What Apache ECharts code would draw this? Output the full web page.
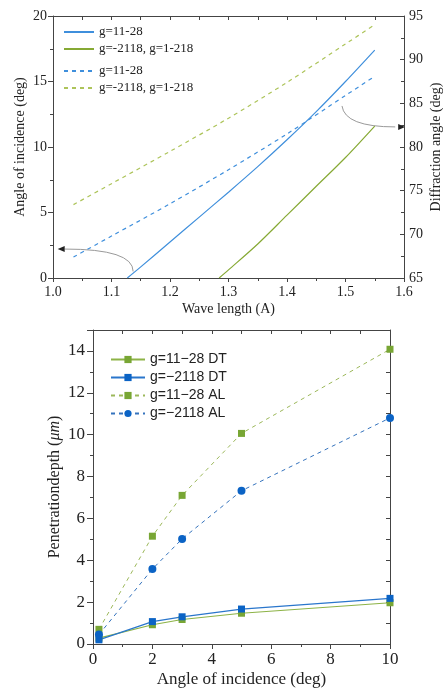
<!DOCTYPE html>
<html>
<head>
<meta charset="utf-8">
<script src="https://cdn.jsdelivr.net/npm/echarts@6/dist/echarts.min.js"></script>
<style>
  html, body { margin: 0; padding: 0; background: #fff; }
  #main { width: 443px; height: 691px; }
</style>
</head>
<body>
<div id="main"></div>
<script>
// ---- top panel: angles vs wave length ----
const waveBlueSolid = [1.127, 1.15, 1.2, 1.25, 1.3, 1.35, 1.4, 1.45, 1.5, 1.55];
const incBlue = [0, 0.85, 2.75, 4.65, 6.55, 8.5, 10.55, 12.7, 15.0, 17.4];
const waveGreenSolid = [1.284, 1.3, 1.35, 1.4, 1.45, 1.5, 1.55];
const incGreen = [0, 0.62, 2.6, 4.8, 7.0, 9.2, 11.6];
const waveDashed = [1.035, 1.1, 1.2, 1.3, 1.4, 1.5, 1.55];
const diffBlue = [67.4, 69.8, 73.5, 77.4, 81.5, 85.9, 88.1];
const diffGreen = [73.4, 75.8, 79.5, 83.3, 87.4, 91.8, 94.0];

// ---- bottom panel: penetration depth vs angle ----
const angleX = [0.2, 2, 3, 5, 10];
const dtGreen = [0.28, 0.92, 1.17, 1.47, 1.97];
const dtBlue = [0.2, 1.07, 1.30, 1.67, 2.18];
const alGreen = [0.7, 5.15, 7.1, 10.06, 14.08];
const alBlue = [0.45, 3.58, 5.02, 7.32, 10.8];

const serif = 'Liberation Serif';
const sans = 'Liberation Sans';
const axisCol = '#444';

const zip = (xs, ys) => xs.map((x, i) => [x, ys[i]]);

const chart = echarts.init(document.getElementById('main'), null, { renderer: 'canvas' });

function axisBase(extra) {
  return Object.assign({
    type: 'value',
    nameMoveOverlap: false,
    splitLine: { show: false },
    axisLine: { show: true, onZero: false, lineStyle: { color: axisCol, width: 1 } },
    axisTick: { show: true, lineStyle: { color: axisCol } },
  }, extra);
}

const topLegendText = { fontFamily: serif, fontSize: 13, color: '#222', lineHeight: 14 };

const option = {
  animation: false,
  backgroundColor: '#fff',
  grid: [
    { left: 53, right: 39, top: 16, bottom: 413, outerBoundsMode: 'none' },
    { left: 93, right: 53, top: 330, bottom: 47, outerBoundsMode: 'none' },
  ],
  legend: [
    {
      orient: 'vertical', left: 58, top: 20, itemWidth: 30, itemHeight: 10, itemGap: 3,
      itemStyle: { opacity: 0 }, textStyle: topLegendText,
      data: ['g=11-28', 'g=-2118, g=1-218'],
    },
    {
      orient: 'vertical', left: 58, top: 59, itemWidth: 30, itemHeight: 10, itemGap: 3,
      itemStyle: { opacity: 0 }, textStyle: topLegendText,
      data: ['g=11-28 ', 'g=-2118, g=1-218 '],
    },
    {
      orient: 'vertical', left: 105, top: 347, itemWidth: 34, itemHeight: 9, itemGap: 3,
      textStyle: { fontFamily: sans, fontSize: 14, color: '#222', lineHeight: 15 },
      data: ['g=11\u221228 DT', 'g=\u22122118 DT', 'g=11\u221228 AL', 'g=\u22122118 AL'],
    },
  ],
  xAxis: [
    axisBase({
      gridIndex: 0, position: 'bottom', min: 1.0, max: 1.6, interval: 0.1,
      name: 'Wave length (A)', nameLocation: 'middle', nameGap: 24,
      nameTextStyle: { fontFamily: serif, fontSize: 14, color: '#222' },
      axisTick: { show: true, length: 4, lineStyle: { color: axisCol } },
      minorTick: { show: true, splitNumber: 2, length: 3, lineStyle: { color: axisCol } },
      axisLabel: { fontFamily: serif, fontSize: 14, color: '#222', margin: 7, formatter: v => v.toFixed(1) },
    }),
    axisBase({
      gridIndex: 0, position: 'top', min: 1.0, max: 1.6, interval: 0.05,
      axisTick: { show: true, inside: true, length: 4, lineStyle: { color: axisCol } },
      axisLabel: { show: false },
    }),
    axisBase({
      gridIndex: 1, position: 'bottom', min: 0, max: 10, interval: 2,
      name: 'Angle of incidence (deg)', nameLocation: 'middle', nameGap: 27,
      nameTextStyle: { fontFamily: serif, fontSize: 17, color: '#222' },
      axisTick: { show: true, length: 5, lineStyle: { color: axisCol } },
      minorTick: { show: true, splitNumber: 2, length: 3, lineStyle: { color: axisCol } },
      axisLabel: { fontFamily: serif, fontSize: 17, color: '#222', margin: 7 },
    }),
    axisBase({
      gridIndex: 1, position: 'top', min: 0, max: 10, interval: 1,
      axisTick: { show: true, inside: true, length: 4, lineStyle: { color: axisCol } },
      axisLabel: { show: false },
    }),
  ],
  yAxis: [
    axisBase({
      gridIndex: 0, position: 'left', min: 0, max: 20, interval: 5,
      name: 'Angle of incidence (deg)', nameLocation: 'middle', nameGap: 26,
      nameTextStyle: { fontFamily: serif, fontSize: 14, color: '#222' },
      axisTick: { show: true, length: 5, lineStyle: { color: axisCol } },
      minorTick: { show: true, splitNumber: 2, length: 3, lineStyle: { color: axisCol } },
      axisLabel: { fontFamily: serif, fontSize: 14, color: '#222', margin: 6 },
    }),
    axisBase({
      gridIndex: 0, position: 'right', min: 65, max: 95, interval: 5,
      name: 'Diffraction angle (deg)', nameLocation: 'middle', nameGap: 25,
      nameTextStyle: { fontFamily: serif, fontSize: 14, color: '#222' },
      axisTick: { show: true, inside: true, length: 4, lineStyle: { color: axisCol } },
      minorTick: { show: true, splitNumber: 2, length: 3, lineStyle: { color: axisCol } },
      axisLabel: { fontFamily: serif, fontSize: 14, color: '#222', margin: 5 },
    }),
    axisBase({
      gridIndex: 1, position: 'left', min: 0, max: 15, interval: 2,
      name: 'Penetrationdepth ({i|\u03bcm})', nameLocation: 'middle', nameGap: 30,
      nameTextStyle: {
        fontFamily: serif, fontSize: 16, color: '#222',
        rich: { i: { fontFamily: serif, fontSize: 16, fontStyle: 'italic', color: '#222' } },
      },
      axisTick: { show: true, length: 6, lineStyle: { color: axisCol } },
      minorTick: { show: true, splitNumber: 2, length: 3, lineStyle: { color: axisCol } },
      axisLabel: { fontFamily: serif, fontSize: 17, color: '#222', margin: 8, showMaxLabel: false },
    }),
    axisBase({
      gridIndex: 1, position: 'right', min: 0, max: 15, interval: 1,
      axisTick: { show: true, inside: true, length: 4, lineStyle: { color: axisCol } },
      axisLabel: { show: false },
    }),
  ],
  series: [
    {
      name: 'g=11-28', type: 'line', xAxisIndex: 0, yAxisIndex: 0, symbol: 'none', smooth: 0.3,
      data: zip(waveBlueSolid, incBlue), color: '#3f8fdc',
      lineStyle: { width: 1.2, color: '#3f8fdc' },
    },
    {
      name: 'g=-2118, g=1-218', type: 'line', xAxisIndex: 0, yAxisIndex: 0, symbol: 'none', smooth: 0.3,
      data: zip(waveGreenSolid, incGreen), color: '#86a934',
      lineStyle: { width: 1.2, color: '#86a934' },
    },
    {
      name: 'g=11-28 ', type: 'line', xAxisIndex: 0, yAxisIndex: 1, symbol: 'none', smooth: 0.3,
      data: zip(waveDashed, diffBlue), color: '#3f8fdc',
      lineStyle: { width: 1.2, type: [4, 4], color: '#3f8fdc' },
    },
    {
      name: 'g=-2118, g=1-218 ', type: 'line', xAxisIndex: 0, yAxisIndex: 1, symbol: 'none', smooth: 0.3,
      data: zip(waveDashed, diffGreen), color: '#adc45a',
      lineStyle: { width: 1.2, type: [4, 4], color: '#adc45a' },
    },
    {
      name: 'g=11\u221228 DT', type: 'line', xAxisIndex: 2, yAxisIndex: 2,
      symbol: 'rect', symbolSize: 7, data: zip(angleX, dtGreen), color: '#78a634',
      itemStyle: { color: '#78a634' }, lineStyle: { width: 1.2, color: '#8db347' },
    },
    {
      name: 'g=\u22122118 DT', type: 'line', xAxisIndex: 2, yAxisIndex: 2,
      symbol: 'rect', symbolSize: 7, data: zip(angleX, dtBlue), color: '#0b63c5',
      itemStyle: { color: '#0b63c5' }, lineStyle: { width: 1.2, color: '#2a76cc' },
    },
    {
      name: 'g=11\u221228 AL', type: 'line', xAxisIndex: 2, yAxisIndex: 2,
      symbol: 'rect', symbolSize: 7, data: zip(angleX, alGreen), color: '#78a634',
      itemStyle: { color: '#78a634' }, lineStyle: { width: 1, type: [4, 4], color: '#9cb85a' },
    },
    {
      name: 'g=\u22122118 AL', type: 'line', xAxisIndex: 2, yAxisIndex: 2,
      symbol: 'circle', symbolSize: 8, data: zip(angleX, alBlue), color: '#0b63c5',
      itemStyle: { color: '#0b63c5' }, lineStyle: { width: 1, type: [4, 4], color: '#3573bd' },
    },
  ],
};

chart.setOption(option);

// curved annotation arrows (anchored in data space of the top panel)
function arrow(axes, p0, pc, p1, tip) {
  const a = chart.convertToPixel(axes, p0);
  const c = chart.convertToPixel(axes, pc);
  const b = chart.convertToPixel(axes, p1);
  const t = chart.convertToPixel(axes, tip);
  const dir = Math.sign(t[0] - b[0]);
  return [
    {
      type: 'bezierCurve', silent: true,
      shape: { x1: a[0], y1: a[1], cpx1: c[0], cpy1: c[1], x2: b[0], y2: b[1] },
      style: { stroke: '#9a9a9a', fill: null, lineWidth: 1 },
    },
    {
      type: 'polygon', silent: true,
      shape: { points: [[t[0], t[1]], [t[0] - dir * 7, t[1] - 3], [t[0] - dir * 7, t[1] + 3]] },
      style: { fill: '#222' },
    },
  ];
}

chart.setOption({
  graphic: [
    ...arrow({ xAxisIndex: 0, yAxisIndex: 0 }, [1.137, 0.5], [1.137, 2.21], [1.02, 2.21], [1.008, 2.21]),
    ...arrow({ xAxisIndex: 0, yAxisIndex: 1 }, [1.494, 84.7], [1.499, 82.3], [1.585, 82.3], [1.602, 82.3]),
  ],
});
</script>
</body>
</html>
